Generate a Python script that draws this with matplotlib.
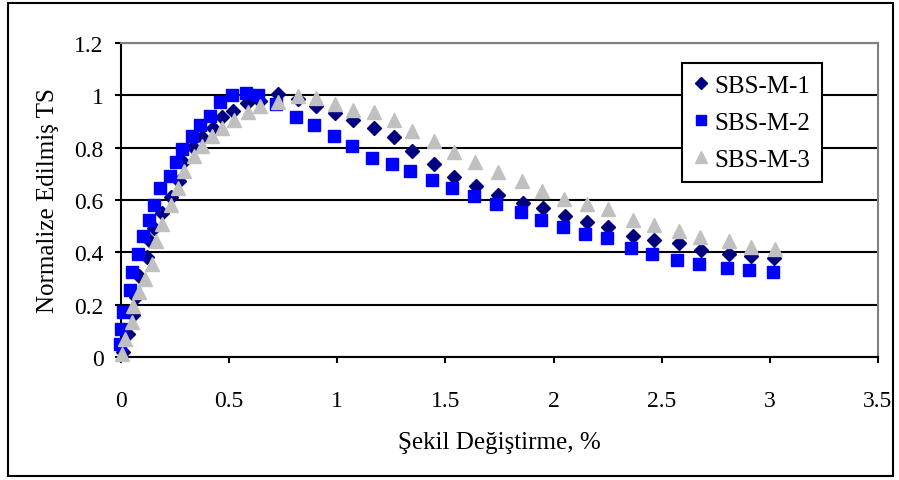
import matplotlib
matplotlib.use("Agg")
import matplotlib.pyplot as plt
from matplotlib.patches import Rectangle

# Normalised tensile strength vs. strain for three SBS-modified specimens
m1_x = [0.011, 0.018, 0.034, 0.054, 0.070, 0.085, 0.119, 0.131, 0.154, 0.188, 0.231,
        0.267, 0.288, 0.331, 0.373, 0.424, 0.466, 0.519, 0.581, 0.643, 0.724, 0.817,
        0.902, 0.989, 1.074, 1.170, 1.264, 1.345, 1.445, 1.541, 1.641, 1.744, 1.857,
        1.950, 2.051, 2.153, 2.253, 2.366, 2.466, 2.578, 2.680, 2.810, 2.911, 3.019]
m1_y = [0.018, 0.092, 0.088, 0.161, 0.230, 0.311, 0.381, 0.447, 0.492, 0.550, 0.611,
        0.672, 0.745, 0.802, 0.840, 0.877, 0.917, 0.942, 0.971, 0.980, 1.006, 0.987,
        0.959, 0.933, 0.904, 0.876, 0.839, 0.786, 0.739, 0.687, 0.652, 0.621, 0.589,
        0.570, 0.540, 0.517, 0.496, 0.464, 0.449, 0.436, 0.410, 0.394, 0.385, 0.377]

m2_x = [-0.004, 0.000, 0.008, 0.042, 0.049, 0.077, 0.103, 0.131, 0.153, 0.180, 0.227,
        0.254, 0.281, 0.330, 0.365, 0.411, 0.458, 0.512, 0.577, 0.632, 0.717, 0.809,
        0.892, 0.985, 1.069, 1.162, 1.254, 1.337, 1.439, 1.532, 1.632, 1.735, 1.848,
        1.940, 2.043, 2.144, 2.245, 2.356, 2.456, 2.569, 2.671, 2.800, 2.902, 3.013]
m2_y = [0.050, 0.107, 0.173, 0.257, 0.324, 0.394, 0.462, 0.525, 0.579, 0.645, 0.693,
        0.747, 0.793, 0.846, 0.885, 0.920, 0.976, 1.002, 1.008, 1.003, 0.967, 0.917,
        0.885, 0.846, 0.808, 0.761, 0.738, 0.709, 0.678, 0.647, 0.617, 0.585, 0.556,
        0.525, 0.496, 0.470, 0.456, 0.417, 0.394, 0.372, 0.356, 0.340, 0.334, 0.326]

m3_x = [0.003, 0.018, 0.049, 0.057, 0.085, 0.111, 0.142, 0.162, 0.188, 0.231, 0.262,
        0.291, 0.339, 0.373, 0.422, 0.468, 0.522, 0.586, 0.643, 0.724, 0.820, 0.902,
        0.989, 1.074, 1.170, 1.262, 1.345, 1.447, 1.540, 1.637, 1.744, 1.854, 1.948,
        2.050, 2.153, 2.253, 2.366, 2.464, 2.578, 2.678, 2.810, 2.911, 3.024]
m3_y = [0.011, 0.069, 0.133, 0.196, 0.247, 0.298, 0.356, 0.445, 0.509, 0.579, 0.645,
        0.712, 0.770, 0.806, 0.844, 0.875, 0.907, 0.936, 0.961, 0.976, 0.999, 0.989,
        0.967, 0.945, 0.936, 0.904, 0.865, 0.827, 0.783, 0.745, 0.706, 0.674, 0.636,
        0.604, 0.584, 0.566, 0.523, 0.505, 0.483, 0.460, 0.445, 0.419, 0.413]

series_names = ["SBS-M-1", "SBS-M-2", "SBS-M-3"]
x_ticks = [0, 0.5, 1, 1.5, 2, 2.5, 3, 3.5]
x_tick_labels = ["0", "0.5", "1", "1.5", "2", "2.5", "3", "3.5"]
y_ticks = [0, 0.2, 0.4, 0.6, 0.8, 1.0, 1.2]
y_tick_labels = ["0", "0.2", "0.4", "0.6", "0.8", "1", "1.2"]

plt.rcParams["font.family"] = ["Liberation Serif", "DejaVu Serif"]

W, H = 899, 481
fig = plt.figure(figsize=(W / 100, H / 100), dpi=100)
ax = fig.add_axes([121 / W, 1 - 358 / H, (878 - 121) / W, (358 - 44) / H])

ax.plot(m1_x, m1_y, linestyle="none", marker="D", markersize=7.5,
        color="#000080", label=series_names[0], zorder=3, clip_on=False)
ax.plot(m2_x, m2_y, linestyle="none", marker="s", markersize=8.5,
        color="#0000FF", label=series_names[1], zorder=4, clip_on=False)
ax.plot(m3_x, m3_y, linestyle="none", marker="^", markersize=10,
        color="#C0C0C0", label=series_names[2], zorder=5, clip_on=False)

ax.set_xlim(0, 3.5)
ax.set_ylim(0, 1.2)
ax.set_xticks(x_ticks)
ax.set_xticklabels(x_tick_labels)
ax.set_yticks(y_ticks)
ax.set_yticklabels(y_tick_labels)
ax.tick_params(axis="both", direction="out", length=4.5, width=1.5,
               labelsize=17, color="black")
ax.tick_params(axis="x", pad=19)
ax.tick_params(axis="y", pad=8)

ax.yaxis.grid(True, color="black", linewidth=1.5, zorder=1)
ax.set_axisbelow(True)

for side in ("left", "bottom"):
    ax.spines[side].set_color("black")
    ax.spines[side].set_linewidth(1.5)
for side in ("top", "right"):
    ax.spines[side].set_color("#808080")
    ax.spines[side].set_linewidth(1.5)

ax.set_xlabel("Şekil Değiştirme, %", fontsize=18, labelpad=15)
ax.set_ylabel("Normalize Edilmiş TS", fontsize=18, labelpad=11)

leg = ax.legend(loc="upper right", bbox_to_anchor=((822 - 121) / 757, (358 - 64) / 314),
                frameon=True, fancybox=False, edgecolor="black", framealpha=1,
                fontsize=18, handlelength=0.6, handletextpad=0.25,
                borderpad=0.45, labelspacing=0.58, borderaxespad=0,
                markerscale=0.85)
leg.get_frame().set_linewidth(1.5)
leg.set_zorder(10)

# outer chart border
fig.patches.append(Rectangle((8 / W, 4 / H), (893 - 8) / W, (477 - 4) / H,
                             transform=fig.transFigure, fill=False,
                             edgecolor="black", linewidth=1.5))

fig.savefig("out.png", dpi=100)
